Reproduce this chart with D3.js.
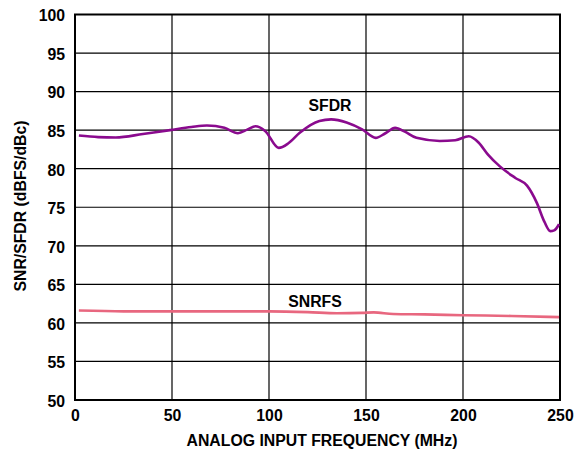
<!DOCTYPE html>
<html><head><meta charset="utf-8">
<script src="https://cdn.jsdelivr.net/npm/d3@7"></script>
<style>body{margin:0;background:#fff}svg{display:block}text{font-family:"Liberation Sans",Arial,sans-serif;font-weight:bold;fill:#000}</style>
</head><body><svg id="c" width="579" height="456"></svg>
<script>
const xTicks = [0, 50, 100, 150, 200, 250];
const yTicks = [50, 55, 60, 65, 70, 75, 80, 85, 90, 95, 100];
const sfdrFreq = [2, 12, 21, 35, 49, 60, 68, 77, 84, 89, 93, 98, 105, 110, 116, 126, 132, 140, 148, 155, 160, 165, 170, 176, 188, 196, 203, 208, 213, 219, 227, 233, 238, 242, 245, 247, 249.5];
const sfdrVals = [84.3, 84.1, 84.05, 84.5, 85.0, 85.4, 85.6, 85.3, 84.6, 85.1, 85.5, 84.9, 82.7, 83.3, 84.7, 86.2, 86.4, 86.0, 85.1, 84.0, 84.6, 85.3, 84.8, 84.0, 83.6, 83.7, 84.2, 83.4, 81.8, 80.3, 78.8, 77.8, 75.6, 73.1, 71.9, 72.0, 72.8];
const snrFreq = [2, 25, 49, 75, 100, 120, 135, 148, 154, 164, 180, 200, 225, 249.5];
const snrVals = [61.6, 61.5, 61.5, 61.5, 61.5, 61.4, 61.25, 61.3, 61.37, 61.15, 61.1, 61.0, 60.9, 60.75];
const labels = {x: "ANALOG INPUT FREQUENCY (MHz)", y: "SNR/SFDR (dBFS/dBc)", sfdr: "SFDR", snr: "SNRFS"};

const FS = "15.8px";
const svg = d3.select("#c");
const L = 75, R = 560, T = 14.5, B = 400;
const x = d3.scaleLinear().domain([0, 250]).range([L, R]);
const y = d3.scaleLinear().domain([50, 100]).range([B, T]);

const g = svg.append("g");
g.selectAll(".gx").data(xTicks).join("line")
  .attr("x1", d => x(d)).attr("x2", d => x(d)).attr("y1", T).attr("y2", B)
  .attr("stroke", "#000").attr("stroke-width", 1.2);
g.selectAll(".gy").data(yTicks).join("line")
  .attr("x1", L).attr("x2", R).attr("y1", d => y(d)).attr("y2", d => y(d))
  .attr("stroke", "#000").attr("stroke-width", 1.2);
g.append("rect").attr("x", L).attr("y", T).attr("width", R - L).attr("height", B - T)
  .attr("fill", "none").attr("stroke", "#000").attr("stroke-width", 2);

const xAxis = d3.axisBottom(x).tickValues(xTicks).tickSize(0).tickPadding(10);
const ya = d3.axisLeft(y).tickValues(yTicks).tickSize(0).tickPadding(10);
const gx = svg.append("g").attr("transform", `translate(0,${B})`).call(xAxis);
const gy = svg.append("g").attr("transform", `translate(${L},0)`).call(ya);
[gx, gy].forEach(a => { a.select(".domain").remove(); a.selectAll("text").style("font-size", FS).style("font-family", '"Liberation Sans",Arial,sans-serif').style("font-weight", "bold").attr("fill", "#000"); });
gy.selectAll("text").attr("dy", "0.4em");

const line = d3.line().curve(d3.curveMonotoneX);
svg.append("path").attr("d", line(sfdrFreq.map((f, i) => [x(f), y(sfdrVals[i])])))
  .attr("fill", "none").attr("stroke", "#8a0a8e").attr("stroke-width", 2.6);
svg.append("path").attr("d", line(snrFreq.map((f, i) => [x(f), y(snrVals[i])])))
  .attr("fill", "none").attr("stroke", "#e8677f").attr("stroke-width", 2.6);

svg.append("text").attr("x", 330).attr("y", 111).attr("text-anchor", "middle").style("font-size", FS).text(labels.sfdr);
svg.append("text").attr("x", 315).attr("y", 306.5).attr("text-anchor", "middle").style("font-size", FS).text(labels.snr);
svg.append("text").attr("x", 322).attr("y", 446).attr("text-anchor", "middle").style("font-size", FS).text(labels.x);
svg.append("text").attr("transform", "translate(26,206) rotate(-90)").attr("text-anchor", "middle").style("font-size", FS).text(labels.y);
</script></body></html>
